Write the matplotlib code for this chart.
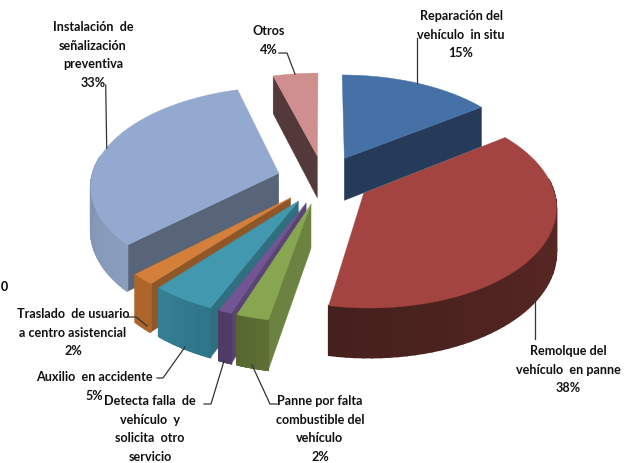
import numpy as np
import matplotlib
matplotlib.use('Agg')
import matplotlib.pyplot as plt
from matplotlib.colors import to_rgb

plt.rcParams['font.family'] = ['Lato', 'DejaVu Sans']

# datos
categorias = ['Reparación del\nvehículo  in situ', 'Remolque del\nvehículo  en panne',
              'Panne por falta\ncombustible del\nvehículo', 'Detecta falla  de\nvehículo  y\nsolicita  otro\nservicio',
              'Auxilio  en accidente', 'Traslado  de usuario\na centro asistencial',
              'Instalación  de\nseñalización\npreventiva', 'Otros']
valores = [15, 38, 2.4, 1, 4.8, 1.8, 32.6, 4.4]
muestra_pct = [True, True, True, False, True, True, True, True]

top_col = ['#4571A6', '#A44441', '#87A64F', '#725592', '#4198AF', '#D47F3A', '#93A9CF', '#CE8F8E']
cut_col = ['#263A5A', '#45201C', '#6C8240', '#5A4476', '#2F6F80', '#8F5727', '#586579', '#533939']
rim_ini = ['#263A5A', '#642B29', '#5D7035', '#4F3B66', '#2F7488', '#AE6529', '#8A9DBE', '#533939']
rim_fin = ['#263A5A', '#45201C', '#566830', '#4F3B66', '#357F94', '#AE6529', '#75869F', '#533939']

# geometria de la torta (pixeles de la imagen)
cx, cy = 323.6, 180.7
ax_a, ax_b = 187.5, 98
persp = 0.118
explota = 0.25
alto = 43


def proyecta(u, v):
    w = 1 + persp * v
    return cx + ax_a * u / w, cy - ax_b * v / w


def grosor(v):
    return alto / (1 + persp * v)


bordes = np.radians(np.cumsum([0] + valores) / sum(valores) * 360)

fig = plt.figure(figsize=(6.35, 4.64), dpi=100)
ax = fig.add_axes([0, 0, 1, 1])
ax.set_xlim(0, 635)
ax.set_ylim(464, 0)
ax.axis('off')


def dibuja(i, z):
    t0, t1 = bordes[i], bordes[i + 1]
    m = (t0 + t1) / 2
    au, av = explota * np.sin(m), explota * np.cos(m)
    t = np.linspace(t0, t1, 60)
    ru, rv = au + np.sin(t), av + np.cos(t)
    ax0, ay0 = proyecta(au, av)
    rx, ry = proyecta(ru, rv)
    d0 = grosor(av)
    dr = grosor(rv)

    # paredes de corte visibles
    if np.sin(t0) < 0:
        ax.fill([ax0, rx[0], rx[0], ax0], [ay0, ry[0], ry[0] + dr[0], ay0 + d0],
                color=cut_col[i], lw=0.3, zorder=z)
    if np.sin(t1) > 0:
        ax.fill([ax0, rx[-1], rx[-1], ax0], [ay0, ry[-1], ry[-1] + dr[-1], ay0 + d0],
                color=cut_col[i], lw=0.3, zorder=z)

    # pared curva con degradado
    c0, c1 = np.array(to_rgb(rim_ini[i])), np.array(to_rgb(rim_fin[i]))
    for k in range(len(t) - 1):
        if np.cos(t[k]) > 0.15:
            continue
        f = 1 - k / (len(t) - 2)
        col = c0 * f + c1 * (1 - f)
        ax.fill([rx[k], rx[k + 1], rx[k + 1], rx[k]],
                [ry[k], ry[k + 1], ry[k + 1] + dr[k + 1], ry[k] + dr[k]],
                color=col, lw=1.2, zorder=z)

    # cara superior
    ax.fill(np.r_[ax0, rx], np.r_[ay0, ry], color=top_col[i], lw=0.3, zorder=z)


# orden de pintado: el rojo queda debajo del azul
for n, i in enumerate([1, 7, 0, 6, 5, 4, 3, 2]):
    dibuja(i, n + 1)

# lineas guia
guias = [
    [(416.7, 39), (416.7, 84)],
    [(535, 297), (535, 340)],
    [(252, 366), (270, 405), (277, 405)],
    [(224, 362), (211, 405), (204, 405)],
    [(185, 348), (163, 379), (157, 379)],
    [(147, 327), (136, 318), (128, 318)],
    [(105.7, 86), (106.7, 149)],
    [(295, 75), (287, 54), (279, 54)],
]
for g in guias:
    xs, ys = zip(*g)
    ax.plot(xs, ys, color='#333333', lw=0.9, zorder=20)

# etiquetas
pos_txt = [(461, 16), (568, 351), (320, 401), (150, 401), (94, 377), (73, 314), (93, 27), (269, 31)]
for cat, v, mp, (x, y) in zip(categorias, valores, muestra_pct, pos_txt):
    s = cat + (f'\n{v:.0f}%' if mp else '')
    for j, linea in enumerate(s.split('\n')):
        ax.text(x, y + j * 18.6, linea, ha='center', va='center', fontsize=9.1,
                fontweight='bold', color='#111111', zorder=30)

ax.text(4, 287, '0', ha='center', va='center', fontsize=9, fontweight='bold', color='black')

fig.savefig('out.png', dpi=100)
